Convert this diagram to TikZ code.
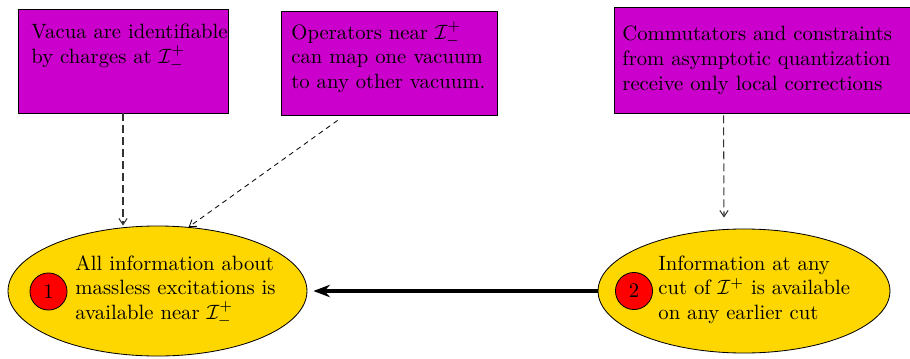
\documentclass[tikz,border=0pt]{standalone}
\usetikzlibrary{arrows.meta,fit,shapes.geometric,calc}
\definecolor{boxmag}{RGB}{204,0,204}
\definecolor{ellgold}{RGB}{255,215,0}
\tikzset{
 box/.style={draw, fill=boxmag, inner sep=0pt, line width=0.4pt},
 txt/.style={anchor=base west, inner sep=0pt, align=left},
 ell/.style={draw, fill=ellgold, ellipse, inner sep=0pt},
 num/.style={draw, fill=red, circle, inner sep=0pt, minimum size=17.9pt},
 darr/.style={dash pattern=on 3.8pt off 2pt, draw=black!80, line width=0.5pt, -{Straight Barb[length=3pt,width=4pt]}},
 farr/.style={dash pattern=on 2.4pt off 2pt, line width=0.4pt, -{Straight Barb[length=3pt,width=4pt]}},
 bigarr/.style={line width=2pt, -{Stealth[length=8pt,width=6pt]}}
}
\begin{document}
\begin{tikzpicture}[x=0.483pt,y=-0.483pt]
\useasboundingbox (0,0) rectangle (910,358);
\node[box, fit={(18,9) (228,113)}] (b1) {};
\node[txt] (t1) at (31,63.8) {Vacua are identifiable\\by charges at $\mathcal{I}^+_-$};
\node[box, fit={(281,11) (497,115)}] (b2) {};
\node[txt] (t2) at (291,88.7) {Operators near $\mathcal{I}^+_-$\\can map one vacuum\\to any other vacuum.};
\node[box, fit={(614,7) (911,113)}] (b3) {};
\node[txt] (t3) at (622,90) {Commutators and constraints\\from asymptotic quantization\\receive only local corrections};

\node[ell, minimum width=144.4pt, minimum height=62.8pt] (e1) at (157.5,291) {};
\node[num] (c1) at (48.5,291.5) {1};
\node[txt] (t4) at (75,319.7) {All information about\\massless excitations is\\available near $\mathcal{I}^+_-$};

\node[ell, minimum width=141pt, minimum height=59.9pt] (e2) at (744,291) {};
\node[num] (c2) at (634,291) {2};
\node[txt] (t5) at (658,319.7) {Information at any\\cut of $\mathcal{I}^+$ is available\\on any earlier cut};

\draw[darr] (b1.south) -- (b1.south |- e1.north);
\draw[farr] ($(b2.south west)+(57,5)$) -- (e1.64);
\coordinate (a3end) at ($(e2.north)+(-20,-11)$);
\draw[darr] ($(b3.south west)+(110,2)$) -- (a3end);
\draw[bigarr] (e2.west) -- ($(e1.east)+(6,0)$);
\end{tikzpicture}
\end{document}
